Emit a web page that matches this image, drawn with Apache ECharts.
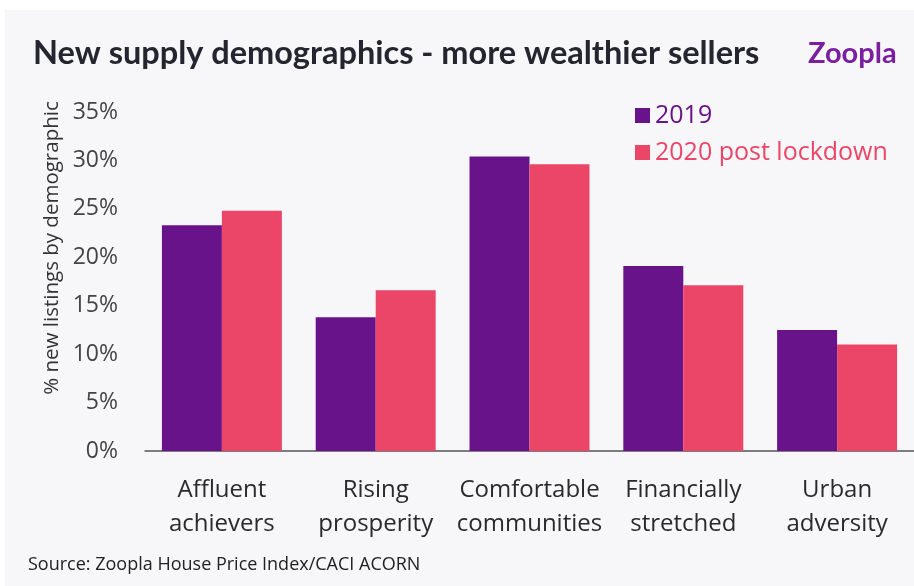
<!DOCTYPE html>
<html>
<head>
<meta charset="utf-8">
<script src="https://cdn.jsdelivr.net/npm/echarts@6/dist/echarts.min.js"></script>
<style>
  html, body { margin: 0; padding: 0; background: #fff; }
  #container { width: 914px; height: 586px; }
</style>
</head>
<body>
<div id="container"></div>
<script>
var categories = ['Affluent\nachievers', 'Rising\nprosperity', 'Comfortable\ncommunities', 'Financially\nstretched', 'Urban\nadversity'];
var seriesNames = ['2019', '2020 post lockdown'];
var values2019 = [23.3, 13.8, 30.4, 19.1, 12.5];
var values2020 = [24.8, 16.6, 29.6, 17.1, 11.0];

var dom = document.getElementById('container');
var myChart = echarts.init(dom, null, { renderer: 'canvas' });

var purple = '#68138a';
var pink = '#eb4667';
var font = "'Open Sans', 'Noto Sans', sans-serif";

var option = {
  backgroundColor: '#ffffff',
  animation: false,
  graphic: [
    {
      type: 'rect',
      left: 5, top: 10, z: -10,
      shape: { width: 909, height: 576 },
      style: { fill: '#f7f7f9' }
    },
    {
      type: 'text',
      left: 33, top: 37,
      style: {
        text: 'New supply demographics - more wealthier sellers',
        font: "bold 32.5px Lato, 'Open Sans', sans-serif",
        fill: '#25252f'
      }
    },
    {
      type: 'text',
      left: 808, top: 39,
      style: {
        text: 'Zoopla',
        font: "bold 29px Lato, 'Open Sans', sans-serif",
        fill: '#7a1fa0'
      }
    },
    {
      // rotated y axis title
      type: 'text',
      x: 52, y: 248,
      rotation: Math.PI / 2,
      style: {
        text: '% new listings by demographic',
        font: '20.5px ' + font,
        fill: '#333',
        align: 'center',
        verticalAlign: 'middle'
      }
    },
    {
      type: 'text',
      left: 28, top: 556,
      style: {
        text: 'Source: Zoopla House Price Index/CACI ACORN',
        font: '18px ' + font,
        fill: '#222'
      }
    }
  ],
  legend: {
    orient: 'vertical',
    left: 630, top: 98,
    itemWidth: 15, itemHeight: 15,
    itemGap: 12,
    icon: 'rect',
    textStyle: {
      fontFamily: font,
      fontSize: 25
    },
    data: [
      { name: seriesNames[0], textStyle: { color: purple } },
      { name: seriesNames[1], textStyle: { color: pink } }
    ]
  },
  grid: {
    left: 145, right: -1, top: 112, bottom: 135
  },
  xAxis: {
    type: 'category',
    data: categories,
    axisLine: { lineStyle: { color: '#555', width: 1.5 } },
    axisTick: { show: false },
    axisLabel: {
      interval: 0,
      fontFamily: font,
      fontSize: 24,
      color: '#2a2a2a',
      lineHeight: 34,
      margin: 22
    }
  },
  yAxis: {
    type: 'value',
    min: 0, max: 35, interval: 5,
    splitLine: { show: false },
    axisLine: { show: false },
    axisTick: { show: false },
    axisLabel: {
      fontFamily: font,
      fontSize: 23,
      color: '#444',
      margin: 27,
      formatter: '{value}%'
    }
  },
  series: [
    {
      name: seriesNames[0],
      type: 'bar',
      data: values2019,
      barGap: '0%',
      barCategoryGap: '22%',
      itemStyle: { color: purple }
    },
    {
      name: seriesNames[1],
      type: 'bar',
      data: values2020,
      itemStyle: { color: pink }
    }
  ]
};

myChart.setOption(option);
window.addEventListener('resize', myChart.resize);
</script>
</body>
</html>
